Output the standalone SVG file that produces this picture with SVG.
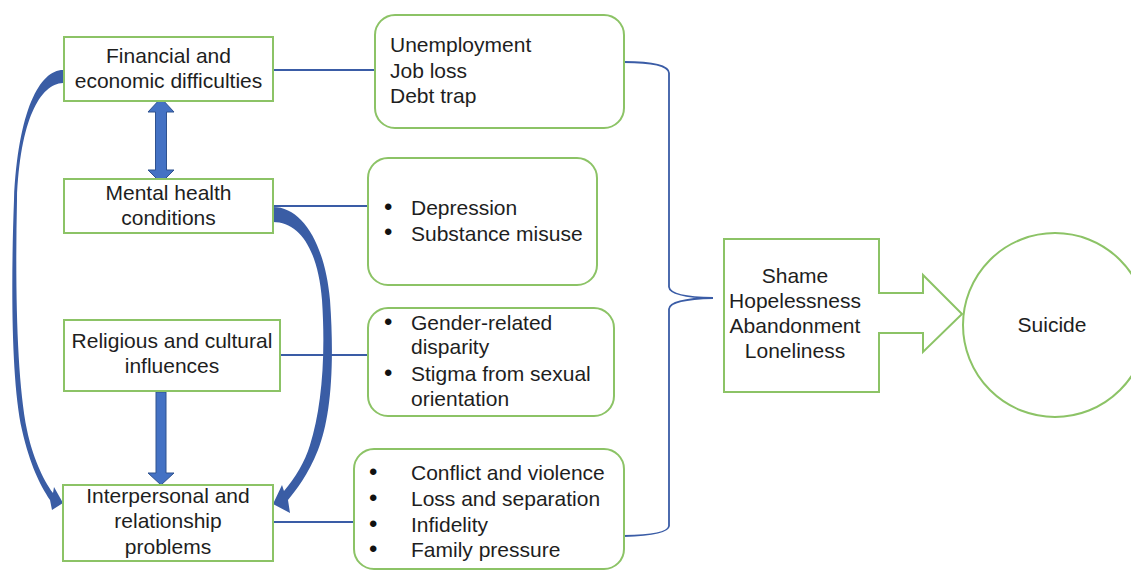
<svg xmlns="http://www.w3.org/2000/svg" width="1131" height="570" viewBox="0 0 1131 570">
<style>
.box{fill:#fff;stroke:#8CC366;stroke-width:2}
.t{font-family:"Liberation Sans",Arial,sans-serif;font-size:21px;fill:#1e1e1e}
.b{font-family:"Liberation Sans",Arial,sans-serif;font-size:24px;fill:#111}
.c{text-anchor:middle}
.ln{fill:none;stroke:#3A5CA6;stroke-width:1.8}
.ca{fill:#3A5DA5;stroke:none}
.ba{fill:#4472C4;stroke:#2F528F;stroke-width:1}
</style>
<rect width="1131" height="570" fill="#fff"/>
<g id="connectors">
<path class="ln" d="M273,70 H376"/>
<path class="ln" d="M273,206 H369"/>
<path class="ln" d="M280,355 H369"/>
<path class="ln" d="M273,522 H354"/>
<path class="ln" d="M624,62 Q668,62 669,73 L669,287 Q670,297 713,298 Q670,299 669,309 L669,526 Q668,535 624,536"/>
<path class="ba" d="M161,98 L174,112 L166.5,112 L166.5,170 L174,170 L161,183 L148,170 L155.5,170 L155.5,112 L148,112 Z"/>
<path class="ba" d="M156,392 L166,392 L166,473 L174,473 L161,485 L148,473 L156,473 Z"/>
<path class="ca" d="M63,70 C40,70 18,110 14,200 C11,280 11,380 22,430 C30,465 40,485 50,500 L52,510 L63,503 L54,487 L53,493 C43,480 32,455 27,430 C17,380 15,290 17,200 C20,120 40,84 63,83 Z"/>
<path class="ca" d="M273,207 C303,207 325,245 330,300 C335,370 330,420 318,450 C308,475 296,490 288,500 L290,513 L273,504 L282,485 L284,491 C295,478 305,462 310,445 C321,410 326,360 322,300 C318,250 300,222 273,222 Z"/>
</g>
<g id="n-financial">
<rect class="box" x="64" y="37" width="209" height="64"/>
<text class="t c" x="168.5" y="63">Financial and</text>
<text class="t c" x="168.5" y="88">economic difficulties</text>
</g>
<g id="n-mental">
<rect class="box" x="64" y="179" width="209" height="54"/>
<text class="t c" x="168.5" y="200">Mental health</text>
<text class="t c" x="168.5" y="225">conditions</text>
</g>
<g id="n-religious">
<rect class="box" x="64" y="320" width="216" height="71"/>
<text class="t c" x="172" y="348">Religious and cultural</text>
<text class="t c" x="172" y="373">influences</text>
</g>
<g id="n-interpersonal">
<rect class="box" x="63" y="485" width="210" height="76"/>
<text class="t c" x="168" y="503">Interpersonal and</text>
<text class="t c" x="168" y="528">relationship</text>
<text class="t c" x="168" y="554">problems</text>
</g>
<g id="n-economic-items">
<rect class="box" x="375" y="15" width="249" height="113" rx="20"/>
<text class="t" x="390" y="52">Unemployment</text>
<text class="t" x="390" y="78">Job loss</text>
<text class="t" x="390" y="103">Debt trap</text>
</g>
<g id="n-mental-items">
<rect class="box" x="368" y="158" width="229" height="127" rx="20"/>
<text class="b" x="384" y="215">•</text>
<text class="t" x="411" y="215">Depression</text>
<text class="b" x="384" y="240">•</text>
<text class="t" x="411" y="241">Substance misuse</text>
</g>
<g id="n-religious-items">
<rect class="box" x="368" y="308" width="246" height="108" rx="20"/>
<text class="b" x="384" y="330">•</text>
<text class="t" x="411" y="330">Gender-related</text>
<text class="t" x="411" y="354">disparity</text>
<text class="b" x="384" y="381">•</text>
<text class="t" x="411" y="381">Stigma from sexual</text>
<text class="t" x="411" y="406">orientation</text>
</g>
<g id="n-interpersonal-items">
<rect class="box" x="354" y="449" width="270" height="120" rx="20"/>
<text class="b" x="369" y="480">•</text>
<text class="t" x="411" y="480">Conflict and violence</text>
<text class="b" x="369" y="506">•</text>
<text class="t" x="411" y="506">Loss and separation</text>
<text class="b" x="369" y="532">•</text>
<text class="t" x="411" y="532">Infidelity</text>
<text class="b" x="369" y="557">•</text>
<text class="t" x="411" y="557">Family pressure</text>
</g>
<g id="n-feelings">
<path class="box" d="M724,239 H879 V293 H923 V275 L962,314 L923,352 V333 H879 V392 H724 Z"/>
<text class="t c" x="795" y="283">Shame</text>
<text class="t c" x="795" y="308">Hopelessness</text>
<text class="t c" x="795" y="333">Abandonment</text>
<text class="t c" x="795" y="358">Loneliness</text>
</g>
<g id="n-suicide">
<circle class="box" cx="1055" cy="325" r="92"/>
<text class="t c" x="1052" y="332">Suicide</text>
</g>
</svg>
